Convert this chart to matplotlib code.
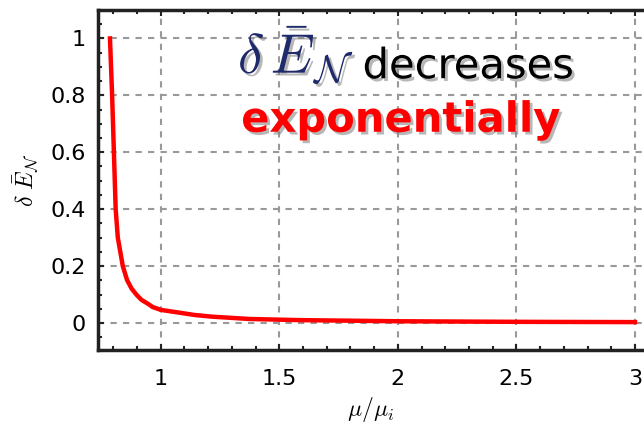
import matplotlib
matplotlib.use('Agg')
import matplotlib.pyplot as plt
import matplotlib.patheffects as pe
from matplotlib.ticker import MultipleLocator

# curve
mu_ratio = [0.786, 0.795, 0.8025, 0.81, 0.819, 0.84, 0.858, 0.877, 0.898, 0.919,
            0.947, 0.966, 1.0, 1.143, 1.218, 1.374, 1.584, 1.794, 2.0, 2.5, 3.0]
delta_E = [1.0, 0.8, 0.6, 0.4, 0.3, 0.2, 0.151, 0.121, 0.099, 0.081,
           0.067, 0.056, 0.046, 0.028, 0.022, 0.014, 0.010, 0.008, 0.006, 0.004, 0.003]

x_ticks = [1, 1.5, 2, 2.5, 3]
x_tick_labels = ['1', '1.5', '2', '2.5', '3']
y_ticks = [0, 0.2, 0.4, 0.6, 0.8, 1]
y_tick_labels = ['0', '0.2', '0.4', '0.6', '0.8', '1']

plt.rcParams['mathtext.fontset'] = 'cm'

fig = plt.figure(figsize=(6.44, 4.25), dpi=100)
ax = fig.add_axes([0.152, 0.1765, 0.848, 0.8])

ax.plot(mu_ratio, delta_E, color='#ff0000', lw=3.2, solid_joinstyle='round')

ax.set_xlim(0.735, 3.038)
ax.set_ylim(-0.095, 1.10)

ax.set_xticks(x_ticks)
ax.set_xticklabels(x_tick_labels)
ax.set_yticks(y_ticks)
ax.set_yticklabels(y_tick_labels)
ax.xaxis.set_minor_locator(MultipleLocator(0.1))
ax.yaxis.set_minor_locator(MultipleLocator(0.05))

ax.tick_params(which='both', direction='in', top=True, right=False,
               colors='#222222', labelcolor='black', width=1.5)
ax.tick_params(which='major', length=4, labelsize=16)
ax.tick_params(which='minor', length=3)
ax.tick_params(axis='x', pad=14)
ax.tick_params(axis='y', pad=9)

for s in ['left', 'bottom', 'top']:
    ax.spines[s].set_linewidth(2.5)
    ax.spines[s].set_color('#222222')
ax.spines['right'].set_visible(False)

ax.grid(True, which='major', color='#999999', linestyle=(0, (3, 3)), lw=1.5)
ax.set_axisbelow(True)

ax.set_xlabel(r'$\mu/\mu_i$', fontsize=17, labelpad=4)
ax.set_ylabel(r'$\delta\ \bar{E}_{\mathcal{N}}$', fontsize=17, labelpad=6)

shadow = [pe.withSimplePatchShadow(offset=(2, -2), shadow_rgbFace='#888888', alpha=0.6)]
fig.text(0.55, 0.828, r'$\delta\,\bar{E}_{\mathcal{N}}$',
         ha='right', va='baseline', fontsize=40, color='#1f2a6b', path_effects=shadow)
fig.text(0.727, 0.816, 'decreases',
         ha='center', va='baseline', fontsize=30, color='black', path_effects=shadow)
fig.text(0.622, 0.69, 'exponentially',
         ha='center', va='baseline', fontsize=30, fontweight='bold', color='#ff0000',
         path_effects=shadow)

fig.savefig('out.png', dpi=100)
